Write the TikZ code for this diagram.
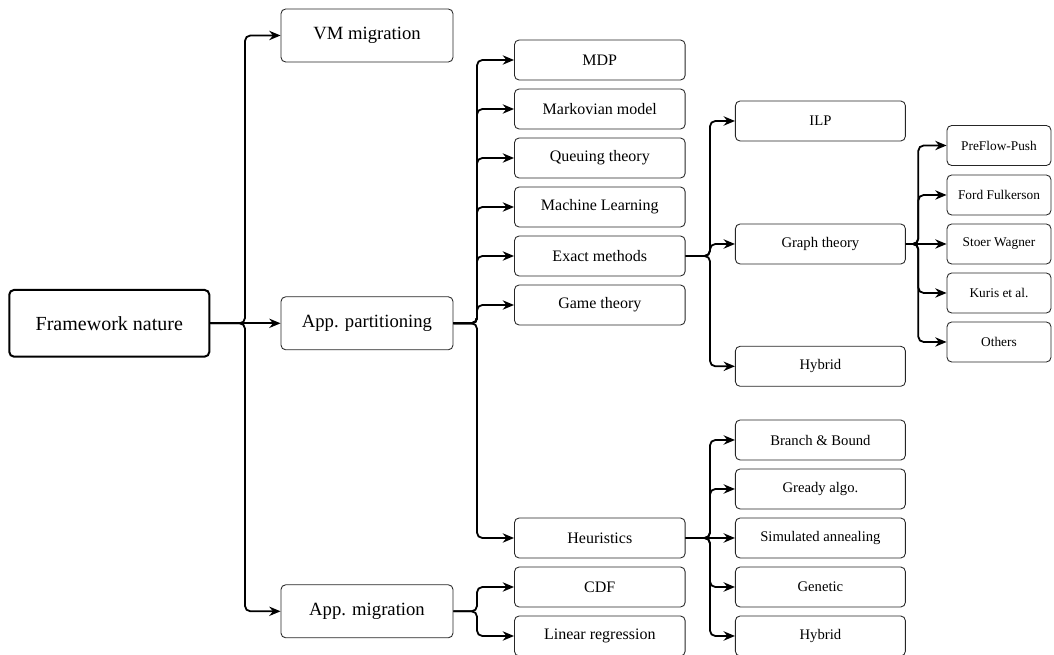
\documentclass[tikz,border=0pt]{standalone}
\usepackage{fontspec}
\setmainfont{Liberation Serif}
\usetikzlibrary{arrows.meta}
\begin{document}
\begin{tikzpicture}[x=0.75pt,y=-0.75pt,
 box/.style={draw=black!85, line width=0.65pt, rounded corners=3.5pt, align=center, inner sep=0pt},
 rootbox/.style={box, draw=black, line width=1.5pt, minimum width=150pt, minimum height=50pt, font=\fontsize{15}{18}\selectfont},
 lone/.style={box, minimum width=129pt, minimum height=39.75pt, font=\fontsize{14}{17}\selectfont},
 ltwo/.style={box, minimum width=128pt, minimum height=30pt, font=\fontsize{12}{14}\selectfont},
 lthree/.style={box, minimum width=127.5pt, minimum height=30pt, font=\fontsize{11}{13}\selectfont},
 lfour/.style={box, minimum width=78pt, minimum height=30pt, font=\fontsize{10}{12}\selectfont},
 link/.style={-{Stealth[length=8.5pt,width=7pt,inset=2.8pt]}, line width=1.35pt, rounded corners=4pt},
]
\useasboundingbox (0,0) rectangle (1054,655);

% nodes
\node[rootbox] (root) at (109.3,323.3) {Framework nature};

\node[lone] (vm)   at (367,35.5)  {VM migration};
\node[lone] (part) at (367,323.3) {App. partitioning};
\node[lone] (mig)  at (367,611.3) {App. migration};

\node[ltwo] (mdp)   at (599.8,60)  {MDP};
\node[ltwo] (mark)  at (599.8,109) {Markovian model};
\node[ltwo] (queue) at (599.8,158) {Queuing theory};
\node[ltwo] (ml)    at (599.8,207) {Machine Learning};
\node[ltwo] (exact) at (599.8,256) {Exact methods};
\node[ltwo] (game)  at (599.8,305) {Game theory};
\node[ltwo] (heur)  at (599.8,538) {Heuristics};
\node[ltwo] (cdf)   at (599.8,587) {CDF};
\node[ltwo] (linreg) at (599.8,636) {Linear regression};

\node[lthree] (ilp)    at (820.4,121)   {ILP};
\node[lthree] (graph)  at (820.4,244)   {Graph theory};
\node[lthree] (hybA)   at (820.4,366.3) {Hybrid};
\node[lthree] (bb)     at (820.4,440)   {Branch \& Bound};
\node[lthree] (greedy) at (820.4,489)   {Gready algo.};
\node[lthree] (sa)     at (820.4,538)   {Simulated annealing};
\node[lthree] (gen)    at (820.4,587)   {Genetic};
\node[lthree] (hybB)   at (820.4,636)   {Hybrid};

\node[lfour] (pfp)   at (999,145.5) {PreFlow-Push};
\node[lfour] (ford)  at (999,195)   {Ford Fulkerson};
\node[lfour] (stoer) at (999,244)   {Stoer Wagner};
\node[lfour] (kuris) at (999,293)   {Kuris et al.};
\node[lfour] (oth)   at (999,342)   {Others};

% branch columns
\coordinate (b0) at (245,0);
\coordinate (b1) at (477,0);
\coordinate (b2) at (710,0);
\coordinate (b3) at (918.3,0);

% root -> level 1
\draw[link] (root.east) -- (root.east -| b0) |- (vm.west);
\draw[link] (root.east) -- (part.west);
\draw[link] (root.east) -- (root.east -| b0) |- (mig.west);

% partitioning -> level 2
\foreach \c in {mdp,mark,queue,ml,exact,game,heur}
  \draw[link] (part.east) -- (part.east -| b1) |- (\c.west);

% migration -> level 2
\foreach \c in {cdf,linreg}
  \draw[link] (mig.east) -- (mig.east -| b1) |- (\c.west);

% exact -> level 3
\foreach \c in {ilp,graph,hybA}
  \draw[link] (exact.east) -- (exact.east -| b2) |- (\c.west);

% heuristics -> level 3
\foreach \c in {bb,greedy,gen,hybB}
  \draw[link] (heur.east) -- (heur.east -| b2) |- (\c.west);
\draw[link] (heur.east) -- (sa.west);

% graph -> level 4
\foreach \c in {pfp,ford,kuris,oth}
  \draw[link] (graph.east) -- (graph.east -| b3) |- (\c.west);
\draw[link] (graph.east) -- (stoer.west);
\end{tikzpicture}
\end{document}
